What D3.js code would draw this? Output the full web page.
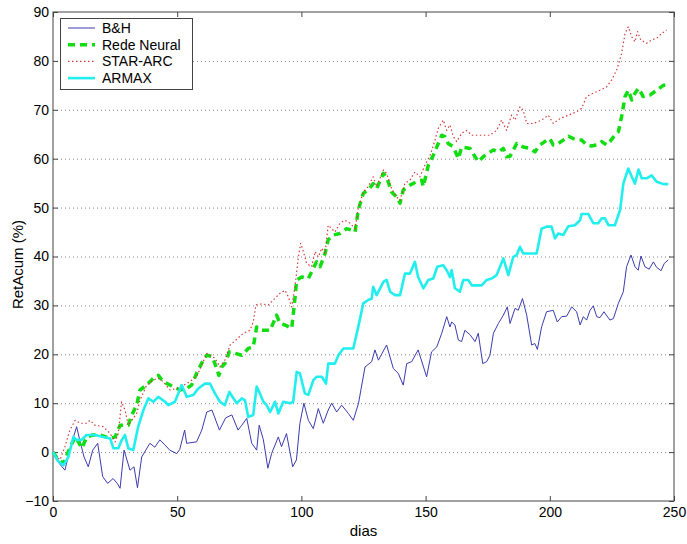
<!DOCTYPE html>
<html>
<head>
<meta charset="utf-8">
<script src="https://cdn.jsdelivr.net/npm/d3@7"></script>
<style>
  body { margin: 0; background: #fff; }
  text { font-family: Arial, 'Liberation Sans', sans-serif; }
</style>
</head>
<body>
<svg></svg>
<script>
// [dia, retorno acumulado %]
const bh = [[0,0],[2,-2],[4.8,-3.7],[7,1],[9.5,5.2],[11,2],[12.5,-1],[14.2,-3],[16,0.4],[18,1.8],[20,-5],[22,-6.4],[24.2,-5.4],[26,-6.5],[27,-7.4],[28.6,0.4],[31,-3.7],[32.6,-3],[34,-7.3],[35.7,-1],[39,1.8],[41,1],[43,2.5],[45,1.5],[47,0.4],[49.8,-0.3],[51,0.5],[53,4.5],[53.8,1.8],[57.8,2.1],[59.9,4.5],[61.9,8.2],[64,8.6],[67,4.5],[69.5,7],[72,7.6],[74.5,4.5],[76,5.5],[78,6.9],[80,1.8],[82,0.4],[83,5.5],[84.7,2.5],[86.5,-3.3],[88,-0.3],[90.7,3.1],[92,1.1],[94,3.8],[96.5,-3],[98,-1.6],[99.4,5.9],[101,10],[102.8,6.5],[104.8,4.8],[106.8,8.9],[108.8,5.9],[110.8,8.6],[112.2,10],[114.2,8.2],[116.2,9.6],[118.9,7.9],[120.9,6.5],[123,10],[125.6,17.4],[128.3,18.5],[129.6,20.9],[131,18.8],[134.3,21.9],[137,17.1],[139,16.1],[141,13.7],[142.4,18.1],[144.4,18.5],[147,20.9],[150.4,15.4],[152.4,20.5],[154.5,21.5],[156.5,24.3],[158.5,27.7],[159.8,25.6],[160.5,26.6],[161.8,26],[163.2,22.9],[164.5,22.6],[165.8,24.9],[167.9,24],[169.9,22.6],[171.2,24.3],[173,18.1],[174.6,18.5],[175.9,19.8],[177.3,24.3],[179.3,26.3],[181.3,28],[182.9,29.7],[184,26.3],[186,29.4],[187.3,29],[189,31.4],[190.7,28],[192.7,21.9],[194,22.2],[195,21],[196.7,25.6],[198.7,28.7],[201.4,29],[203,26.6],[204.8,27.7],[206.8,27.8],[208.8,29.7],[210.8,28.7],[212.2,26],[213.5,27.7],[214.8,27],[216.2,29],[217.5,29.9],[218.9,27.7],[220.2,27.5],[221.8,28.7],[224.2,27],[225.6,27.3],[227.6,30.4],[229.6,32.8],[230.9,37.9],[232.7,40.3],[234.3,37.9],[235.6,37.2],[236.7,40.1],[238.3,37.9],[240,37.4],[241.7,38.9],[243,37.8],[244.8,37.1],[246.1,38.6],[247.7,39.3]];

const redeNeural = [[0,0],[2,-1.5],[4.2,-2.3],[6.5,0.5],[8.9,3.1],[10.2,2.1],[11.6,0.8],[13.6,3.1],[16,3.5],[18.9,3.5],[23,2.8],[25,3.1],[27,5.5],[30.3,5.5],[31.7,7.6],[33.7,9.6],[35,12.7],[37.7,13.7],[41,15.4],[42.4,15.7],[44.4,14.4],[48.4,13.4],[51.1,12.7],[53.8,13],[55.8,13.7],[57.8,16.1],[60.5,18.8],[61.9,19.8],[63.9,19.6],[65.2,18.1],[66.8,15.7],[67.9,17.4],[69.2,18.1],[71,20.5],[73.3,20.2],[76,19.8],[78.6,21.2],[80.6,21.5],[82,25.6],[84,24.9],[87.4,24.9],[90,28],[91.4,26.3],[93.4,26],[96.1,25.3],[97.4,31.4],[98.1,35.2],[100.1,35.8],[102.8,35.5],[104.8,37.6],[106.1,38.9],[107.5,37.9],[109.5,40.6],[110.8,43.4],[112.8,44.4],[115.5,44.7],[118.2,45.7],[120.2,45.4],[121.6,45],[122.9,49.5],[124.9,52.9],[126.9,53.6],[128.9,54.9],[130.3,53.9],[133,57],[134.3,56.3],[136.3,53.2],[138.3,52.2],[139.7,50.9],[141,53.6],[143.7,54.6],[146.4,55.3],[148.4,55.6],[149.1,54.3],[151.1,58.7],[153.1,60.7],[155.1,63.1],[156.5,64.8],[157.8,64.5],[159.1,63.1],[161.2,62.4],[163.2,60],[164.5,62.4],[165.8,62.3],[167.9,62.1],[169.9,60.4],[171.2,59.4],[173.2,60.4],[175.2,61.1],[177.3,61.8],[179.3,61.4],[181.3,62.1],[182.6,60.4],[184,60.5],[186.7,63.1],[189.3,62.4],[192,62.1],[194,61.4],[196,62.8],[198,63.5],[200,64.1],[201.4,62.8],[203.4,63.1],[205.4,63.8],[207.5,64.6],[209.5,64.1],[211.5,63.8],[212.8,63.8],[214.8,62.8],[216.8,62.6],[218.9,62.8],[220.9,63.5],[222.9,62.8],[224.2,63.5],[226.2,64.8],[227.6,65.5],[228.9,68.6],[230.3,72.7],[231.6,74],[233,72],[234.3,73.4],[235.7,74.4],[237.6,72.7],[240.3,73],[243,74],[245.7,75],[247.7,75]];

const starArc = [[0,0],[2.8,-1.6],[4.8,1.1],[6.8,4.5],[8.9,6.5],[10.9,5.9],[13.6,5.9],[14.9,6.5],[16.9,5.5],[20.2,5.2],[23,3.8],[25,2.1],[26.3,3.8],[27.6,10.3],[29,8.6],[30.3,5.5],[31.7,6.5],[33.7,7.9],[35,10.6],[37.7,13.7],[40.4,14.7],[42.4,15.1],[44.4,14.4],[47.1,12.7],[49.8,13],[53.8,14],[57.8,15.4],[59.9,17.8],[61.9,20.2],[63.2,19.8],[65.2,19.2],[67.2,17.4],[69.2,18.8],[71.3,21.9],[74,23.1],[76.6,24.3],[79.3,24.9],[80.6,26.6],[81.7,30.1],[84,30.3],[86.7,30.1],[88.7,31.1],[91.4,32.5],[93.4,33.1],[94.7,31.8],[96.1,29.7],[97.4,33.8],[98.8,39.9],[99.7,42.7],[100.8,41],[102.1,38.6],[104.1,37.9],[105.5,41],[106.8,39.9],[108.2,41.7],[109.5,40.6],[110.8,46.4],[112.2,45.7],[113.5,45],[115.5,46.8],[117.5,47.4],[119.6,46.8],[121.6,45.7],[122.9,49.8],[124.9,53.2],[126.9,54.3],[128.9,56.3],[130.3,54.3],[133,57.7],[134.3,57],[136.3,53.9],[138.3,52.2],[139.7,51.5],[141.7,55],[143.7,55.6],[145.7,57.3],[147.7,56.3],[149.8,58.7],[151.8,60.7],[153.8,63.8],[155.1,66.2],[157.1,67.9],[158.5,65.8],[159.8,66.9],[161.2,64.5],[162.5,63.5],[164.5,65.2],[166.5,65.8],[168.6,64.8],[171.9,64.8],[175.9,64.8],[178.6,65.8],[180.6,67.9],[182.6,65.8],[184.6,68.9],[186,67.9],[188,70.6],[189.3,69.9],[190.7,67.2],[193.4,67.2],[196.7,67.9],[199.4,68.9],[201.4,67.2],[204.1,68.2],[207.5,68.9],[210.8,69.6],[212.8,70.3],[214.8,72.7],[217.5,73.4],[220.2,74],[222.9,74.7],[224.9,76.1],[226.9,78.1],[228.9,81.5],[230.3,85.6],[231.6,87],[233,84.9],[234.3,83.9],[235.3,86],[236.6,84.3],[239,83.6],[241,84.3],[243,84.6],[245,85.6],[247,86.3]];

const armax = [[0,0],[2,-1.8],[4.2,-2.7],[6.2,-1],[8.2,3.1],[9.5,2.5],[11.5,2.5],[13.5,3.5],[16.9,3.5],[20.2,3.1],[23,2.8],[24.3,0.8],[26.3,0.8],[27.7,2.5],[29,3.5],[30.3,0.8],[32.3,0.4],[34.3,5.2],[36.4,8.6],[38.4,11],[40.4,10.3],[42.4,11.3],[45.1,10.3],[46.4,9.6],[49.1,10.3],[51.8,13.7],[53.8,11.3],[56.5,11.7],[58.5,13],[61.2,14],[63.2,14],[65.2,12],[67.2,10.3],[69.2,9.6],[71,12.3],[72.6,11],[74,10],[76,11],[77.3,10.6],[78.6,7.2],[80.6,7.6],[82,13.4],[83.3,12],[84.7,10.3],[86,9.6],[87.4,8.2],[89.4,10.3],[90.7,7.9],[92.7,10.3],[95.4,10],[96.7,10.3],[98.1,16.4],[99.4,16.1],[101.4,12],[102.8,11.7],[104.8,14.7],[106.1,15.4],[108.2,15.4],[109.9,14],[110.8,18.1],[113.5,18.1],[114.9,19.8],[116.9,21.2],[120.9,21.2],[122.9,25.6],[124.9,30.4],[126.9,31.1],[128.3,31.4],[128.9,33.8],[130.3,32.1],[133,34.8],[134.3,35.2],[135.7,32.8],[137.7,32.1],[139.7,32.1],[141.7,36.5],[143.7,36.5],[145.7,38.9],[147,35.8],[149.1,33.5],[151.1,35.2],[153.1,35.5],[154.7,37.9],[157.1,38.2],[158.5,37.2],[159.8,35.8],[160.5,37.2],[161.8,33.5],[163.8,32.8],[165.2,35.2],[167.2,35.2],[168.6,34.1],[172.6,34.1],[174.6,35.2],[176.6,35.5],[178.6,36.2],[181.3,39.6],[183.3,36.2],[185.3,39.9],[186.7,40.3],[188,42],[189.3,40.6],[194.7,40.6],[196.7,45.7],[198.7,46.1],[200.7,46.1],[202.1,43.7],[203.4,44.7],[205.4,44.4],[207.5,46.2],[210.1,46.4],[212.2,47.4],[212.8,48.7],[215.5,48.7],[217.5,46.8],[219.5,46.8],[220.9,47.8],[222.2,47.8],[223.6,46.4],[226.2,46.4],[228.3,49.5],[229.6,54.9],[231.6,58],[233,56.3],[234.3,54.9],[235.7,57.8],[237,56],[239,56],[241,56.6],[243,55.3],[245.7,54.8],[247.7,54.8]];

const seriesNames = ['B&H', 'Rede Neural', 'STAR-ARC', 'ARMAX'];
const xTicks = [0, 50, 100, 150, 200, 250];
const yTicks = [-10, 0, 10, 20, 30, 40, 50, 60, 70, 80, 90];

const margin = { top: 12, right: 13, bottom: 43, left: 53 };
const width = 687 - margin.left - margin.right;
const height = 544 - margin.top - margin.bottom;

const svg = d3.select('svg')
  .attr('width', 687)
  .attr('height', 544);

const chart = svg.append('g')
  .attr('transform', `translate(${margin.left}, ${margin.top})`);

const xScale = d3.scaleLinear().domain([0, 250]).range([0, width]);
const yScale = d3.scaleLinear().domain([-10, 90]).range([height, 0]);

// grade horizontal pontilhada
chart.append('g')
  .selectAll('line')
  .data(yTicks.filter(t => t > -10 && t < 90))
  .enter()
  .append('line')
  .attr('x1', 0)
  .attr('x2', width)
  .attr('y1', d => yScale(d) + 0.5)
  .attr('y2', d => yScale(d) + 0.5)
  .attr('stroke', '#888')
  .attr('stroke-width', 1)
  .attr('stroke-dasharray', '1,3');

// eixos estilo matlab: ticks para dentro, caixa
const axisColor = '#444';
const styleAxis = (g) => {
  g.select('.domain').remove();
  g.selectAll('.tick line').attr('stroke', axisColor);
  g.selectAll('.tick text').attr('fill', '#000').style('font-size', '14px');
};

chart.append('g')
  .attr('transform', `translate(0, ${height})`)
  .call(d3.axisBottom(xScale).tickValues(xTicks).tickSizeInner(-5).tickSizeOuter(0).tickPadding(6))
  .call(styleAxis);

chart.append('g')
  .call(d3.axisTop(xScale).tickValues(xTicks).tickSizeInner(-5).tickSizeOuter(0).tickFormat(''))
  .call(styleAxis);

chart.append('g')
  .call(d3.axisLeft(yScale).tickValues(yTicks).tickSizeInner(-5).tickSizeOuter(0).tickPadding(4))
  .call(styleAxis);

chart.append('g')
  .attr('transform', `translate(${width}, 0)`)
  .call(d3.axisRight(yScale).tickValues(yTicks).tickSizeInner(-5).tickSizeOuter(0).tickFormat(''))
  .call(styleAxis);

chart.append('rect')
  .attr('x', 0)
  .attr('y', 0)
  .attr('width', width)
  .attr('height', height)
  .attr('fill', 'none')
  .attr('stroke', axisColor)
  .attr('stroke-width', 1);

// linhas
const line = d3.line()
  .x(d => xScale(d[0]))
  .y(d => yScale(d[1]));

const styles = [
  { data: bh, color: '#3b3bb0', width: 1, dash: null },
  { data: redeNeural, color: '#11dd11', width: 3.5, dash: '7,5' },
  { data: starArc, color: '#d23c3c', width: 1.2, dash: '1.5,2.5' },
  { data: armax, color: '#22eeee', width: 2.6, dash: null }
];

chart.selectAll('.serie')
  .data(styles)
  .enter()
  .append('path')
  .attr('class', 'serie')
  .attr('d', s => line(s.data))
  .attr('fill', 'none')
  .attr('stroke', s => s.color)
  .attr('stroke-width', s => s.width)
  .attr('stroke-dasharray', s => s.dash)
  .attr('stroke-linejoin', 'round');

// titulos dos eixos
svg.append('text')
  .attr('x', margin.left + width / 2)
  .attr('y', 536)
  .attr('text-anchor', 'middle')
  .style('font-size', '15px')
  .text('dias');

svg.append('text')
  .attr('transform', `translate(23, ${margin.top + height / 2 + 8}) rotate(-90)`)
  .attr('text-anchor', 'middle')
  .style('font-size', '15px')
  .text('RetAcum (%)');

// legenda
const legend = svg.append('g')
  .attr('transform', 'translate(60, 18)');

legend.append('rect')
  .attr('x', 0.5)
  .attr('y', 0.5)
  .attr('width', 132)
  .attr('height', 71)
  .attr('fill', '#fff')
  .attr('stroke', axisColor);

const rows = legend.selectAll('.row')
  .data(styles)
  .enter()
  .append('g')
  .attr('class', 'row')
  .attr('transform', (s, i) => `translate(0, ${10 + i * 16.7})`);

rows.append('line')
  .attr('x1', 8)
  .attr('x2', 35)
  .attr('stroke', s => s.color)
  .attr('stroke-width', s => s.width)
  .attr('stroke-dasharray', s => s.dash);

rows.append('text')
  .attr('x', 42)
  .attr('dy', '0.35em')
  .style('font-size', '14px')
  .text((s, i) => seriesNames[i]);
</script>
</body>
</html>
